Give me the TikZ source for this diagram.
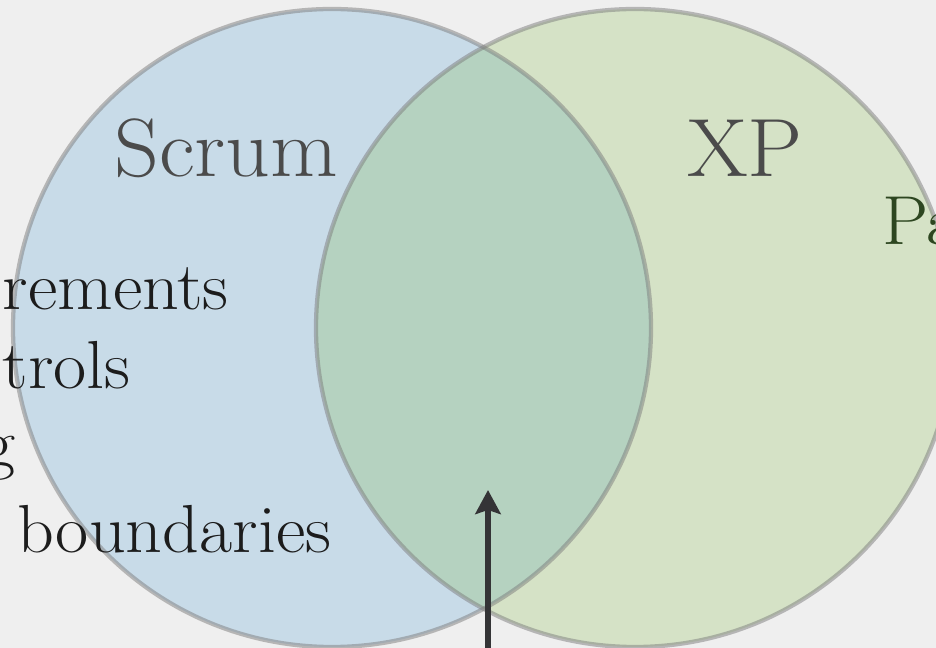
\documentclass[tikz,border=0pt]{standalone}
\usepackage{fontspec}
\newfontfamily\widefont[FakeStretch=1.06]{Latin Modern Roman}
\usetikzlibrary{arrows.meta}
\definecolor{bgc}{RGB}{239,239,239}
\definecolor{bluefill}{RGB}{200,219,232}
\definecolor{greenfill}{RGB}{213,226,198}
\definecolor{bothfill}{RGB}{181,210,192}
\definecolor{ringc}{RGB}{125,125,125}
\definecolor{headc}{RGB}{75,75,75}
\definecolor{listc}{RGB}{28,28,28}
\definecolor{pac}{RGB}{45,70,32}
\definecolor{arrowc}{RGB}{52,52,54}
\tikzset{
  ring/.style={draw=ringc, draw opacity=0.5, line width=3.2pt},
  setlabel/.style={inner sep=0pt, text=headc, font=\widefont\fontsize{62}{72}\selectfont},
  itemlabel/.style={inner sep=0pt, text=listc, font=\widefont\fontsize{51}{60}\selectfont},
  pointer/.style={draw=arrowc, line width=3.8pt, -{Stealth[length=18pt, width=19pt, inset=3pt]}}
}
\begin{document}
\begin{tikzpicture}[x=0.75pt, y=-0.75pt]
  \useasboundingbox (0,0) rectangle (936,648);
  \clip (0,0) rectangle (936,648);
  \fill[bgc] (0,0) rectangle (936,648);
  \coordinate (cs) at (332,328);
  \coordinate (cx) at (635,328);
  % fills
  \fill[bluefill] (cs) circle [radius=239.25pt];
  \fill[greenfill] (cx) circle [radius=239.25pt];
  \begin{scope}
    \clip (cs) circle [radius=239.25pt];
    \fill[bothfill] (cx) circle [radius=239.25pt];
  \end{scope}
  % outlines
  \path[ring] (cs) circle [radius=239.25pt];
  \path[ring] (cx) circle [radius=239.25pt];
  % labels
  \node[setlabel, anchor=base west] (scrum) at (114,177) {Scrum};
  \node[setlabel, anchor=base west] (xp) at (687,177) {XP};
  \node[inner sep=0pt, text=pac, font=\widefont\fontsize{52}{60}\selectfont, anchor=base west] (pa) at (882,245) {Pa};
  \node[itemlabel, anchor=base east] (l1) at (229,310) {rements};
  \node[itemlabel, anchor=base east] (l2) at (131,389) {trols};
  \node[itemlabel, anchor=base east] (l3) at (16,467) {g};
  \node[itemlabel, anchor=base west] (l4) at (17,552) {boundaries};
  % arrow
  \coordinate (tail) at (488,652);
  \coordinate (tip) at (488,490);
  \draw[pointer] (tail) -- (tip);
\end{tikzpicture}
\end{document}
